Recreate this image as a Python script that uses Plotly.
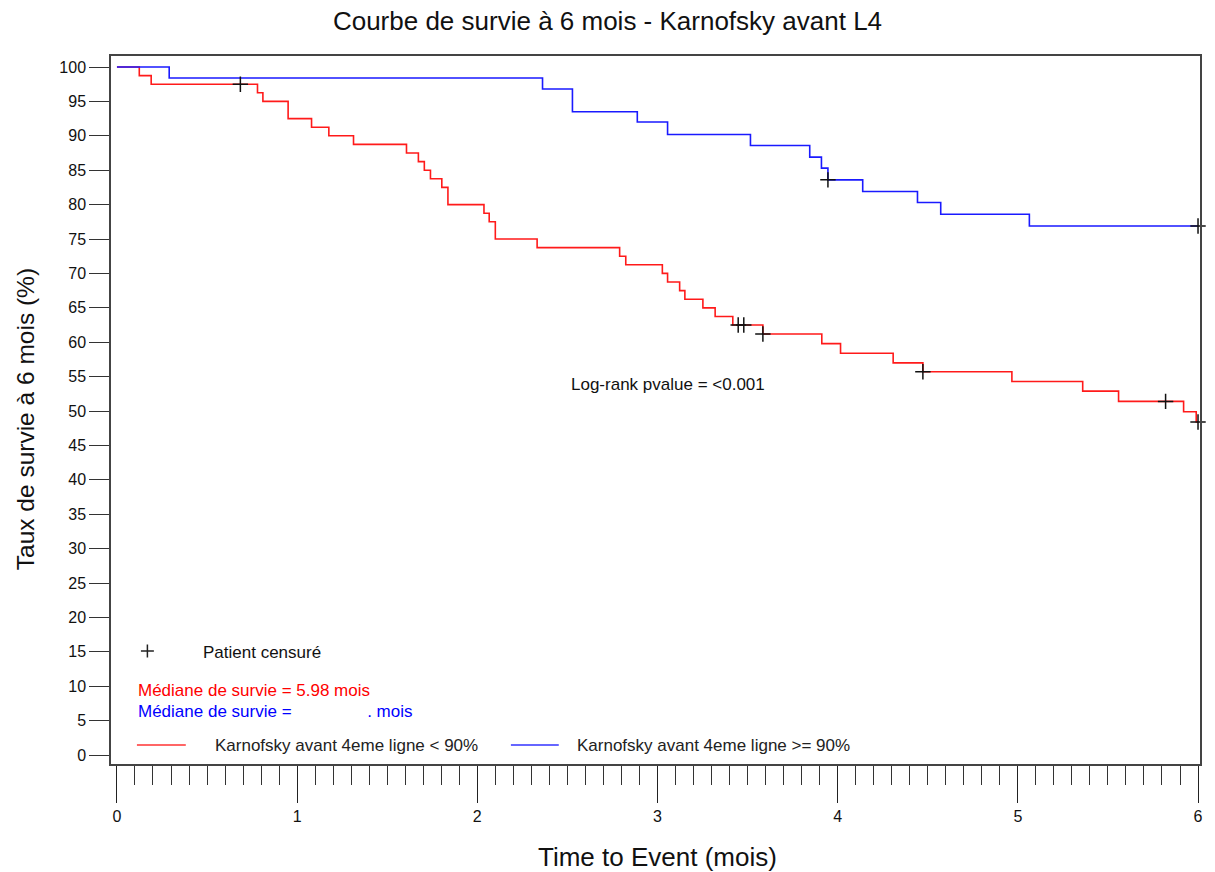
import plotly.graph_objects as go

# ---- data ----
red_t = [0, 0.124, 0.19, 0.78, 0.81, 0.95, 1.08, 1.176, 1.313, 1.607, 1.673, 1.706, 1.74,
         1.803, 1.837, 2.037, 2.066, 2.10, 2.332, 2.79, 2.824, 3.027, 3.056, 3.123, 3.152,
         3.252, 3.32, 3.418, 3.585, 3.912, 4.016, 4.308, 4.473, 4.967, 5.36, 5.559, 5.92,
         5.99, 6.0]
red_s = [100, 98.75, 97.5, 96.25, 95.0, 92.5, 91.25, 90.0, 88.75, 87.5, 86.25, 85.0, 83.75,
         82.5, 80.0, 78.75, 77.5, 75.0, 73.75, 72.5, 71.25, 70.0, 68.75, 67.5, 66.25,
         65.0, 63.75, 62.5, 61.2, 59.8, 58.4, 57.0, 55.7, 54.3, 52.9, 51.4, 49.9,
         48.4, 48.4]
red_cens_t = [0.685, 3.448, 3.479, 3.585, 4.473, 5.82, 6.0]
red_cens_s = [97.5, 62.5, 62.5, 61.2, 55.7, 51.4, 48.4]

blue_t = [0, 0.29, 2.362, 2.528, 2.888, 3.056, 3.516, 3.845, 3.91, 3.946, 4.139, 4.443,
          4.572, 5.064, 6.0]
blue_s = [100, 98.4, 96.8, 93.5, 92.0, 90.2, 88.6, 86.9, 85.3, 83.6, 81.9, 80.3,
          78.6, 76.9, 76.9]
blue_cens_t = [3.946, 6.0]
blue_cens_s = [83.6, 76.9]

x_ticks = [0, 1, 2, 3, 4, 5, 6]
y_ticks = list(range(0, 101, 5))

RED = "#ff1a1a"
BLUE = "#1a1aff"
FONT = "Liberation Sans, Arial, sans-serif"
TXT = 17

fig = go.Figure()
fig.add_trace(go.Scatter(x=red_t, y=red_s, mode="lines", line=dict(color=RED, width=1.6, shape="hv"),
                         showlegend=False, hoverinfo="skip"))
fig.add_trace(go.Scatter(x=blue_t, y=blue_s, mode="lines", line=dict(color=BLUE, width=1.6, shape="hv"),
                         showlegend=False, hoverinfo="skip"))
fig.add_trace(go.Scatter(x=red_cens_t, y=red_cens_s, mode="markers", cliponaxis=False,
                         marker=dict(symbol="cross-thin", size=11, line=dict(color="#111", width=1.5)),
                         showlegend=False, hoverinfo="skip"))
fig.add_trace(go.Scatter(x=blue_cens_t, y=blue_cens_s, mode="markers", cliponaxis=False,
                         marker=dict(symbol="cross-thin", size=11, line=dict(color="#111", width=1.5)),
                         showlegend=False, hoverinfo="skip"))

W, H = 1215, 872
L, R, T, B = 111, 12, 56, 108
PW, PH = W - L - R, H - T - B


def px(x):
    return (x - L) / PW


def py(y):
    return (H - B - y) / PH


shapes = [
    # legend key for censored patients
    dict(type="line", xref="paper", yref="paper", x0=px(141), x1=px(154), y0=py(651), y1=py(651),
         line=dict(color="#222", width=1.5)),
    dict(type="line", xref="paper", yref="paper", x0=px(147.5), x1=px(147.5), y0=py(644.5), y1=py(657.5),
         line=dict(color="#222", width=1.5)),
    # group legend keys
    dict(type="line", xref="paper", yref="paper", x0=px(137), x1=px(186), y0=py(745), y1=py(745),
         line=dict(color="#ff6666", width=2)),
    dict(type="line", xref="paper", yref="paper", x0=px(512), x1=px(560), y0=py(745), y1=py(745),
         line=dict(color="#6666ff", width=2)),
]

NB = "\u00a0"
annotations = [
    dict(text="Log-rank pvalue = <0.001", x=2.51, y=53.8, xref="x", yref="y", xanchor="left",
         yanchor="middle", showarrow=False, font=dict(size=TXT, color="#111", family=FONT)),
    dict(text="Patient censuré", x=px(201), y=py(652), xref="paper", yref="paper", xanchor="left",
         yanchor="middle", showarrow=False, font=dict(size=TXT, color="#111", family=FONT)),
    dict(text="Médiane de survie = 5.98 mois", x=px(136), y=py(690), xref="paper", yref="paper",
         xanchor="left", yanchor="middle", showarrow=False, font=dict(size=TXT, color="#ff0000", family=FONT)),
    dict(text="Médiane de survie =" + NB * 16 + ". mois", x=px(136), y=py(711), xref="paper", yref="paper",
         xanchor="left", yanchor="middle", showarrow=False, font=dict(size=TXT, color="#0000ff", family=FONT)),
    dict(text="Karnofsky avant 4eme ligne < 90%", x=px(213), y=py(745), xref="paper", yref="paper",
         xanchor="left", yanchor="middle", showarrow=False, font=dict(size=TXT, color="#222", family=FONT)),
    dict(text="Karnofsky avant 4eme ligne >= 90%", x=px(576), y=py(745), xref="paper", yref="paper",
         xanchor="left", yanchor="middle", showarrow=False, font=dict(size=TXT, color="#222", family=FONT)),
    # axis titles
    dict(text="Time to Event (mois)", x=px(659), y=py(857), xref="paper", yref="paper",
         xanchor="center", yanchor="middle", showarrow=False, font=dict(size=26, color="#111", family=FONT)),
    dict(text="Taux de survie à 6 mois (%)", x=px(25), y=py(419), xref="paper", yref="paper",
         xanchor="center", yanchor="middle", textangle=-90, showarrow=False,
         font=dict(size=24.5, color="#111", family=FONT)),
]

fig.update_layout(
    width=W, height=H,
    margin=dict(l=L, r=R, t=T, b=B),
    paper_bgcolor="white", plot_bgcolor="white",
    font=dict(family=FONT, color="#111"),
    title=dict(text="Courbe de survie à 6 mois - Karnofsky avant L4", x=0.5, xanchor="center",
               y=1 - 21 / H, yanchor="middle", yref="container", font=dict(size=26, color="#111")),
    shapes=shapes, annotations=annotations,
    xaxis=dict(range=[-0.033, 6.011], tickvals=x_ticks, ticktext=[str(v) for v in x_ticks],
               ticks="outside", ticklen=37, tickwidth=1.2, tickcolor="#222",
               minor=dict(dtick=0.1, tick0=0, ticks="outside", ticklen=19, tickwidth=1.2, tickcolor="#333"),
               showline=True, linecolor="#444", linewidth=1.5, mirror=True, showgrid=False, zeroline=False,
               tickfont=dict(size=16, family=FONT, color="#111")),
    yaxis=dict(range=[-1.3, 101.6], tickvals=y_ticks, ticks="outside", ticklen=20, tickwidth=1.2,
               tickcolor="#333", showline=True, linecolor="#444", linewidth=1.5, mirror=True,
               showgrid=False, zeroline=False, tickfont=dict(size=16, family=FONT, color="#111")),
)

fig.write_html("out.html")
